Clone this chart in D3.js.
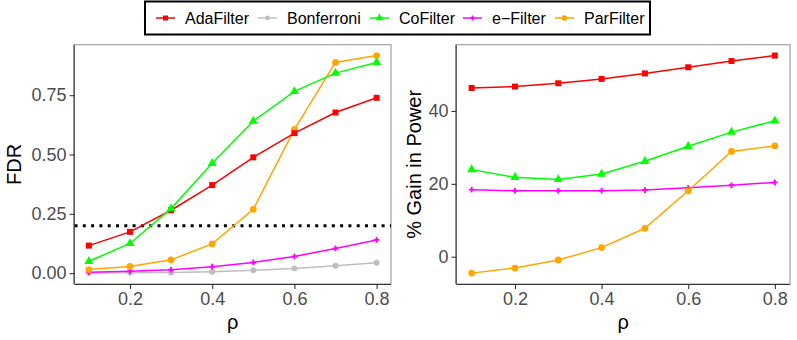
<!DOCTYPE html>
<html>
<head>
<meta charset="utf-8">
<script src="https://cdn.jsdelivr.net/npm/d3@7"></script>
<style>
  html, body { margin: 0; padding: 0; background: #fff; }
  svg text { font-family: "Liberation Sans", Arial, sans-serif; }
</style>
</head>
<body>
<svg id="chart" width="797" height="340"></svg>
<script>
const rho = [0.1, 0.2, 0.3, 0.4, 0.5, 0.6, 0.7, 0.8];

const fdrAda = [0.116, 0.174, 0.265, 0.371, 0.488, 0.590, 0.677, 0.739];
const fdrBonf = [0.001, 0.002, 0.003, 0.006, 0.012, 0.020, 0.031, 0.044];
const fdrCo = [0.050, 0.125, 0.272, 0.463, 0.641, 0.766, 0.843, 0.888];
const fdrE = [0.004, 0.008, 0.014, 0.027, 0.045, 0.070, 0.104, 0.140];
const fdrPar = [0.015, 0.028, 0.056, 0.123, 0.269, 0.606, 0.888, 0.917];
const fdrLevel = 0.2;

const gainAda = [46.3, 46.7, 47.6, 48.8, 50.3, 52.0, 53.7, 55.2];
const gainCo = [23.9, 21.8, 21.2, 22.7, 26.2, 30.3, 34.2, 37.3];
const gainE = [18.4, 18.1, 18.1, 18.1, 18.3, 18.9, 19.6, 20.4];
const gainPar = [-4.5, -3.1, -0.9, 2.5, 7.8, 18.1, 28.9, 30.4];

const xTicks = [0.2, 0.4, 0.6, 0.8];
const fdrTicks = [0.00, 0.25, 0.50, 0.75];
const gainTicks = [0, 20, 40];

const methods = [
  { name: "AdaFilter", color: "#ff0000", shape: d3.symbolSquare, size: 36 },
  { name: "Bonferroni", color: "#bebebe", shape: d3.symbolCircle, size: 28 },
  { name: "CoFilter", color: "#00ff00", shape: d3.symbolTriangle, size: 36 },
  { name: "e\u2212Filter", color: "#ff00ff", shape: d3.symbolCross, size: 18 },
  { name: "ParFilter", color: "#ffa500", shape: d3.symbolCircle, size: 36 }
];

const svg = d3.select("#chart");

// ggplot-style 5% expansion
function expand(lo, hi) {
  const pad = (hi - lo) * 0.05;
  return [lo - pad, hi + pad];
}

function panel({ left, right, series, ticks, fmt, title, titleX, extra }) {
  const top = 44.7, bottom = 284;
  const x = d3.scaleLinear().domain(expand(d3.min(rho), d3.max(rho))).range([left, right]);
  const all = series.flatMap((s) => s.values);
  const y = d3.scaleLinear().domain(expand(Math.min(0, d3.min(all)), d3.max(all))).range([bottom, top]);

  const g = svg.append("g");

  // panel border: grey top/right
  g.append("rect")
    .attr("x", left).attr("y", top)
    .attr("width", right - left).attr("height", bottom - top)
    .attr("fill", "none").attr("stroke", "#9a9a9a").attr("stroke-width", 1.1);

  if (extra) extra(g, x, y);

  series.forEach((s) => {
    const pts = rho.map((r, i) => [r, s.values[i]]);
    g.append("path")
      .datum(pts)
      .attr("fill", "none")
      .attr("stroke", s.m.color)
      .attr("stroke-width", 1.5)
      .attr("d", d3.line().x((d) => x(d[0])).y((d) => y(d[1])));
    g.selectAll(null)
      .data(pts)
      .join("path")
      .attr("transform", (d) => `translate(${x(d[0])},${y(d[1])})`)
      .attr("fill", s.m.color)
      .attr("d", d3.symbol().type(s.m.shape).size(s.m.size));
  });

  g.append("g")
    .attr("transform", `translate(0,${bottom})`)
    .call(d3.axisBottom(x).tickValues(xTicks).tickSize(5).tickPadding(3).tickFormat(d3.format(".1f")))
    .call((sel) => sel.select(".domain").attr("d", `M${left},0.5H${right}`).attr("stroke", "#333").attr("stroke-width", 1.1))
    .call((sel) => sel.selectAll("line").attr("stroke", "#333").attr("stroke-width", 1.1))
    .call((sel) => sel.selectAll("text").attr("fill", "#4d4d4d").attr("font-size", "18px").attr("font-family", "Liberation Sans, Arial, sans-serif"));

  g.append("g")
    .attr("transform", `translate(${left},0)`)
    .call(d3.axisLeft(y).tickValues(ticks).tickSize(5).tickPadding(3).tickFormat(fmt))
    .call((sel) => sel.select(".domain").attr("d", `M-0.5,${top}V${bottom}`).attr("stroke", "#333").attr("stroke-width", 1.1))
    .call((sel) => sel.selectAll("line").attr("stroke", "#333").attr("stroke-width", 1.1))
    .call((sel) => sel.selectAll("text").attr("fill", "#4d4d4d").attr("font-size", "18px").attr("font-family", "Liberation Sans, Arial, sans-serif"));

  g.append("text")
    .attr("x", (left + right) / 2).attr("y", 329)
    .attr("text-anchor", "middle").attr("font-size", "20px").attr("fill", "#000")
    .text("\u03c1");

  g.append("text")
    .attr("transform", `translate(${titleX},${(top + bottom) / 2}) rotate(-90)`)
    .attr("text-anchor", "middle").attr("font-size", "20px").attr("fill", "#000")
    .text(title);
}

panel({
  left: 74.5, right: 391,
  series: [
    { m: methods[1], values: fdrBonf },
    { m: methods[3], values: fdrE },
    { m: methods[4], values: fdrPar },
    { m: methods[0], values: fdrAda },
    { m: methods[2], values: fdrCo }
  ],
  ticks: fdrTicks, fmt: d3.format(".2f"), title: "FDR", titleX: 21,
  extra: (g, x, y) => {
    g.append("line")
      .attr("x1", x.range()[0]).attr("x2", x.range()[1])
      .attr("y1", y(fdrLevel)).attr("y2", y(fdrLevel))
      .attr("stroke", "#000").attr("stroke-width", 3)
      .attr("stroke-dasharray", "3 5.3");
  }
});

panel({
  left: 456.5, right: 790,
  series: [
    { m: methods[3], values: gainE },
    { m: methods[4], values: gainPar },
    { m: methods[0], values: gainAda },
    { m: methods[2], values: gainCo }
  ],
  ticks: gainTicks, fmt: d3.format("d"), title: "% Gain in Power", titleX: 421
});

// legend
const lg = svg.append("g");
lg.append("rect")
  .attr("x", 145).attr("y", 1.5).attr("width", 505).attr("height", 33)
  .attr("fill", "#fff").attr("stroke", "#000").attr("stroke-width", 2);

const keyX = [156, 258, 370, 463, 555];
methods.forEach((m, i) => {
  const k = lg.append("g").attr("transform", `translate(${keyX[i]},18)`);
  k.append("line").attr("x1", 0).attr("x2", 19).attr("stroke", m.color).attr("stroke-width", 1.5);
  k.append("path").attr("transform", "translate(9.5,0)").attr("fill", m.color)
    .attr("d", d3.symbol().type(m.shape).size(m.size * 0.7));
  k.append("text").attr("x", 29).attr("y", 6).attr("font-size", "16px").attr("fill", "#000").text(m.name);
});
</script>
</body>
</html>
